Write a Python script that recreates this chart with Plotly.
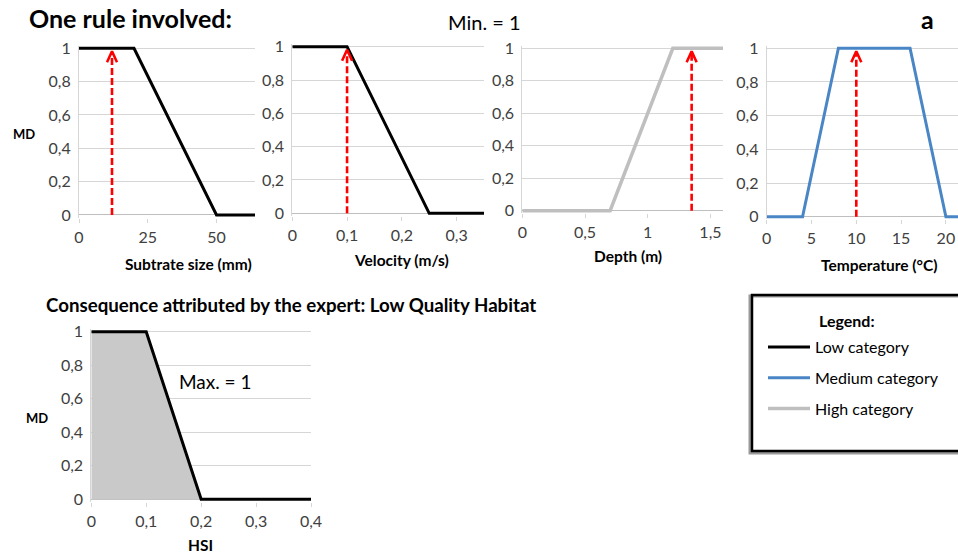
import plotly.graph_objects as go

W, H = 958, 556
OFF = 0  # body margin is removed in the page, so figure px == page px

# ---------------- data ----------------
substrate_x = [0, 20, 50, 64]
substrate_md = [1, 1, 0, 0]
substrate_input = 12

velocity_x = [0, 0.1, 0.25, 0.35]
velocity_md = [1, 1, 0, 0]
velocity_input = 0.1

depth_x = [0, 0.7, 1.2, 1.6]
depth_md = [0, 0, 1, 1]
depth_input = 1.35

temp_x = [0, 4, 8, 16, 20, 21.4]
temp_md = [0, 0, 1, 1, 0, 0]
temp_input = 10

hsi_x = [0, 0.1, 0.2, 0.4]
hsi_md = [1, 1, 0, 0]

md_ticks = [0, 0.2, 0.4, 0.6, 0.8, 1]
substrate_ticks = [0, 25, 50]
velocity_ticks = [0, 0.1, 0.2, 0.3]
depth_ticks = [0, 0.5, 1, 1.5]
temp_ticks = [0, 5, 10, 15, 20]
hsi_ticks = [0, 0.1, 0.2, 0.3, 0.4]

# ---------------- style ----------------
FONT = "Lato"
BLACK = "#000000"
BLUE = "#4a86c6"
GRAY = "#bfbfbf"
RED = "#ff0000"
GRID = "#d6d6d6"
TICK = "#404040"
EXT = 0.015  # small y-range extension so thick lines at 0/1 are not clipped


def fx(px):
    return (px - OFF) / W


def fy(py):
    return 1 - (py - OFF) / H


# panel pixel geometry: x px of range ends, y px of MD=0 and MD=1, x range
panels = [
    dict(x0=79, x1=255, y0=215, y1=48.3, xr=[0, 64], ticks=substrate_ticks),
    dict(x0=292.3, x1=484, y0=213.3, y1=46.7, xr=[0, 0.35], ticks=velocity_ticks),
    dict(x0=522.3, x1=723, y0=210.7, y1=48.3, xr=[0, 1.6], ticks=depth_ticks),
    dict(x0=766.7, x1=958, y0=216.7, y1=48.3, xr=[0, 21.35], ticks=temp_ticks),
    dict(x0=91.3, x1=311, y0=499.3, y1=331.7, xr=[0, 0.4], ticks=hsi_ticks),
]

fig = go.Figure()
layout = {}
for i, p in enumerate(panels, start=1):
    span = p["y0"] - p["y1"]
    top = p["y1"] - EXT * span
    bot = p["y0"] + EXT * span
    xa = "xaxis" if i == 1 else f"xaxis{i}"
    ya = "yaxis" if i == 1 else f"yaxis{i}"
    layout[xa] = dict(
        domain=[fx(p["x0"]), min(fx(p["x1"]), 1.0)], range=p["xr"],
        anchor=f"y{'' if i == 1 else i}", tickvals=p["ticks"],
        showgrid=False, zeroline=False, showline=False,
        ticks="outside", ticklen=4, tickcolor=GRID, tickwidth=1,
        tickfont=dict(family=FONT, size=16, color=TICK),
        ticklabelstandoff=1, ticklabeloverflow="allow",
        fixedrange=True, automargin=False,
    )
    layout[ya] = dict(
        domain=[fy(bot), fy(top)], range=[-EXT, 1 + EXT],
        anchor=f"x{'' if i == 1 else i}", tickvals=md_ticks,
        showgrid=True, gridcolor=GRID, gridwidth=1,
        zeroline=True, zerolinecolor=GRAY, zerolinewidth=1,
        showline=True, linecolor=GRID, linewidth=1, ticks="",
        tickfont=dict(family=FONT, size=16, color=TICK),
        ticklabelstandoff=4, fixedrange=True, automargin=False,
    )


def px_per_unit(p):
    return (p["x1"] - p["x0"]) / (p["xr"][1] - p["xr"][0]), (p["y0"] - p["y1"])


def add_arrow(i, xval):
    p = panels[i - 1]
    sx, sy = px_per_unit(p)
    ax = "x" if i == 1 else f"x{i}"
    ay = "y" if i == 1 else f"y{i}"
    tip = 1 - 3 / sy
    fig.add_trace(go.Scatter(
        x=[xval, xval], y=[0, tip - 1 / sy], mode="lines", xaxis=ax, yaxis=ay,
        line=dict(color=RED, width=2.6, dash="7px,3px"),
        showlegend=False, hoverinfo="skip"))
    hw, hh = 5.0 / sx, 11 / sy
    fig.add_trace(go.Scatter(
        x=[xval - hw, xval, xval + hw], y=[tip - hh, tip, tip - hh], mode="lines",
        xaxis=ax, yaxis=ay, line=dict(color=RED, width=2.6),
        showlegend=False, hoverinfo="skip"))


# panel 1: substrate (low)
fig.add_trace(go.Scatter(x=substrate_x, y=substrate_md, mode="lines",
                         line=dict(color=BLACK, width=3), name="Low category",
                         legendgroup="low", legendrank=1, showlegend=True,
                         xaxis="x", yaxis="y"))
add_arrow(1, substrate_input)
# panel 2: velocity (low)
fig.add_trace(go.Scatter(x=velocity_x, y=velocity_md, mode="lines",
                         line=dict(color=BLACK, width=3), showlegend=False,
                         xaxis="x2", yaxis="y2"))
add_arrow(2, velocity_input)
# panel 3: depth (high)
fig.add_trace(go.Scatter(x=depth_x, y=depth_md, mode="lines",
                         line=dict(color=GRAY, width=3.5), name="High category",
                         legendgroup="high", legendrank=3, showlegend=True,
                         xaxis="x3", yaxis="y3"))
add_arrow(3, depth_input)
# panel 4: temperature (medium)
fig.add_trace(go.Scatter(x=temp_x, y=temp_md, mode="lines",
                         line=dict(color=BLUE, width=3), name="Medium category",
                         legendgroup="med", legendrank=2, showlegend=True,
                         xaxis="x4", yaxis="y4"))
add_arrow(4, temp_input)
# panel 5: HSI consequence
fig.add_trace(go.Scatter(x=hsi_x, y=hsi_md, mode="lines", fill="tozeroy",
                         fillcolor="#c9c9c9", line=dict(color=BLACK, width=3),
                         showlegend=False, xaxis="x5", yaxis="y5"))


def ann(text, x, y, size, bold=False, xanchor="center", color="#000000"):
    return dict(text=f"<b>{text}</b>" if bold else text, x=fx(x), y=fy(y),
                xref="paper", yref="paper", xanchor=xanchor, yanchor="middle",
                showarrow=False, font=dict(family=FONT, size=size, color=color))


annotations = [
    ann("One rule involved:", 27, 18, 25, bold=True, xanchor="left"),
    ann("Min. = 1", 485, 22, 20),
    ann("a", 927, 19, 25, bold=True),
    ann("Consequence attributed by the expert: Low Quality Habitat", 44, 305, 18.7,
        bold=True, xanchor="left"),
    ann("Max. = 1", 177, 381, 19, xanchor="left"),
    ann("MD", 24, 134, 13, bold=True),
    ann("MD", 37, 418, 13, bold=True),
    ann("Subtrate size (mm)", 188, 264, 15.5, bold=True),
    ann("Velocity (m/s)", 401, 260, 15.5, bold=True),
    ann("Depth (m)", 628, 256, 15.5, bold=True),
    ann("Temperature (°C)", 879, 265, 15.5, bold=True),
    ann("HSI", 200, 545, 15.5, bold=True),
    ann("Legend:", 817, 320, 16, bold=True, xanchor="left"),
]

shapes = [
    dict(type="rect", xref="paper", yref="paper", x0=fx(750), x1=fx(960),
         y0=fy(453), y1=fy(296), line=dict(color="#9a9a9a", width=3),
         layer="below"),
    dict(type="rect", xref="paper", yref="paper", x0=fx(752), x1=fx(960),
         y0=fy(451), y1=fy(295), line=dict(color=BLACK, width=2.5),
         layer="below"),
]

fig.update_layout(
    width=W, height=H, margin=dict(l=0, r=0, t=0, b=0, autoexpand=False),
    paper_bgcolor="white", plot_bgcolor="white",
    separators=", ",
    font=dict(family=FONT, color=TICK),
    annotations=annotations, shapes=shapes,
    showlegend=True,
    legend=dict(x=fx(763), y=fy(330), xanchor="left", yanchor="top",
                bgcolor="rgba(0,0,0,0)", borderwidth=0, itemwidth=42,
                tracegroupgap=7, traceorder="grouped",
                font=dict(family=FONT, size=16, color="#000000")),
    **layout,
)

fig.write_html(
    "out.html",
    config={"displayModeBar": False},
    post_script="document.body.style.margin='0';"
                "document.documentElement.style.overflow='hidden';",
)
